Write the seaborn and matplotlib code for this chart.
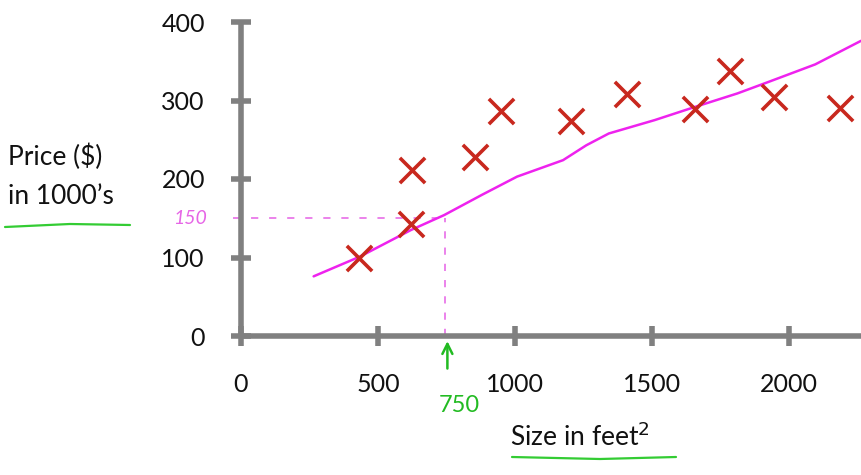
import matplotlib
matplotlib.use("Agg")
import matplotlib.pyplot as plt
import seaborn as sns
import pandas as pd
from matplotlib.lines import Line2D

# housing data (size in feet^2, price in $1000's)
sizes = [430, 620, 624, 855, 950, 1205, 1410, 1655, 1785, 1945, 2185]
prices = [100, 143, 211, 228, 287, 274, 308, 289, 337, 304, 290]

# hand-drawn fit curve
fit_x = [265, 433, 620, 741, 880, 1007, 1175, 1260, 1342, 1509, 1658, 1811, 1927, 2095, 2262]
fit_y = [76, 101, 135, 154, 180, 203, 224, 243, 258, 275, 292, 309, 324, 346, 376]

# prediction guide: size 750 -> price 150
guide_x = 745
guide_y = 150

x_ticks = [0, 500, 1000, 1500, 2000]
y_ticks = [0, 100, 200, 300, 400]

sns.set_style("white")
plt.rcParams['font.family'] = ['Lato', 'DejaVu Sans']

fig = plt.figure(figsize=(8.61, 4.75), dpi=100)
ax = fig.add_axes([241 / 861, 139 / 475, 620 / 861, 314 / 475])

pts = pd.DataFrame({"size": sizes, "price": prices})
fit = pd.DataFrame({"size": fit_x, "price": fit_y})

# dotted guide lines
ax.plot([-30, guide_x], [guide_y, guide_y], color="#e040e0", lw=1.3,
        ls=(0, (4, 6)), alpha=0.7, clip_on=False, zorder=1)
ax.plot([guide_x, guide_x], [0, guide_y], color="#e040e0", lw=1.3,
        ls=(0, (4, 5)), alpha=0.7, zorder=1)

sns.lineplot(data=fit, x="size", y="price", sort=False, color="#ee22ee",
             lw=1.8, ax=ax, zorder=2)
sns.scatterplot(data=pts, x="size", y="price", marker="x", s=330,
                color="#c8281e", linewidth=2.6, ax=ax, zorder=3)

ax.set_xlim(0, 2262)
ax.set_ylim(0, 400)
ax.set_xticks(x_ticks)
ax.set_yticks(y_ticks)
ax.set_xlabel("")
ax.set_ylabel("")

for s in ["top", "right"]:
    ax.spines[s].set_visible(False)
for s in ["left", "bottom"]:
    ax.spines[s].set_color("#808080")
    ax.spines[s].set_linewidth(4)
    ax.spines[s].set_capstyle("butt")
ax.tick_params(axis="both", direction="inout", length=14, width=4,
               color="#808080", labelsize=18, labelcolor="#111111",
               bottom=True, left=True)
ax.tick_params(axis="x", pad=20)
ax.tick_params(axis="y", pad=19)

# axis titles
fig.text(8 / 861, 1 - 157 / 475, "Price ($)", fontsize=19, ha="left",
         va="center", color="#111111")
fig.text(8 / 861, 1 - 196 / 475, "in 1000\u2019s", fontsize=19, ha="left",
         va="center", color="#111111")
fig.text(510 / 861, 1 - 437 / 475, "Size in feet$^2$", fontsize=19,
         ha="left", va="center", color="#111111")

# green underlines
fig.add_artist(Line2D([5 / 861, 70 / 861, 130 / 861],
                      [1 - 227 / 475, 1 - 224 / 475, 1 - 225 / 475],
                      color="#33cc33", lw=1.6))
fig.add_artist(Line2D([512 / 861, 600 / 861, 676 / 861],
                      [1 - 457 / 475, 1 - 459 / 475, 1 - 457 / 475],
                      color="#33cc33", lw=1.6))

# handwritten annotations
ax.text(-125, guide_y, "150", color="#e040e0", fontsize=14, ha="right",
        va="center", style="italic", alpha=0.8, clip_on=False)
ax.annotate("", xy=(guide_x + 8, -3), xytext=(guide_x + 8, -45),
            arrowprops=dict(arrowstyle="->", color="#22bb22", lw=1.8,
                            mutation_scale=18),
            annotation_clip=False)
ax.text(guide_x + 50, -88, "750", color="#22bb22", fontsize=17,
        ha="center", va="center", clip_on=False)

fig.savefig("out.png", dpi=100)
